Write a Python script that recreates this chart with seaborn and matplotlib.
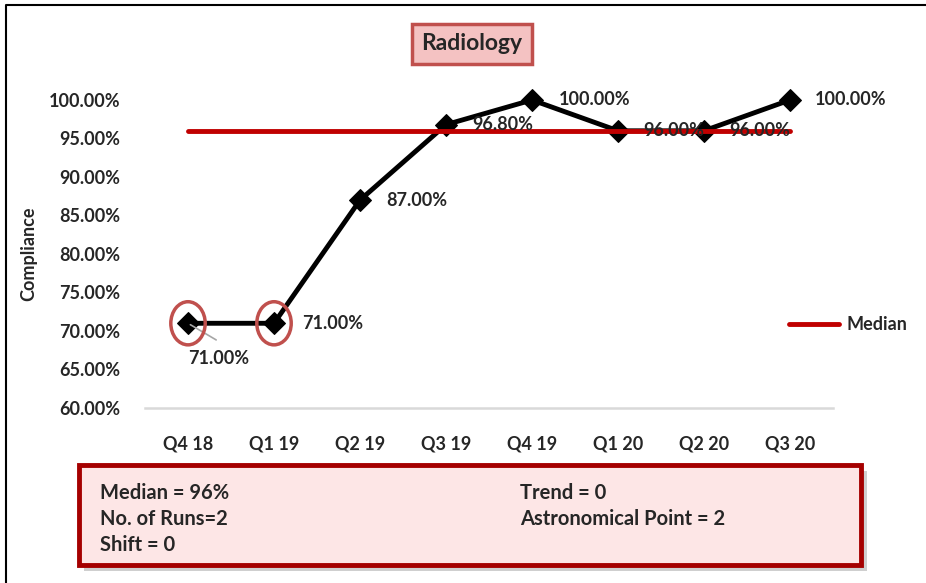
import numpy as np
import pandas as pd
import matplotlib
matplotlib.use("Agg")
import matplotlib.pyplot as plt
import seaborn as sns
from matplotlib.patches import Rectangle, Ellipse
from matplotlib.lines import Line2D

quarters = ["Q4 18", "Q1 19", "Q2 19", "Q3 19", "Q4 19", "Q1 20", "Q2 20", "Q3 20"]
compliance = [0.71, 0.71, 0.87, 0.968, 1.00, 0.96, 0.96, 1.00]
median = 0.96
circled = [0, 1]  # astronomical points
stats_left = ["Median = 96%", "No. of Runs=2", "Shift = 0"]
stats_right = ["Trend = 0", "Astronomical Point = 2"]

sns.set_style("white")
plt.rcParams["font.family"] = ["Lato", "DejaVu Sans"]
plt.rcParams["font.weight"] = "bold"
FS = 13

df = pd.DataFrame({"quarter": quarters, "compliance": compliance})

fig = plt.figure(figsize=(9.26, 5.83), dpi=100)
ax = fig.add_axes([0.1566, 0.3002, 0.743, 0.5283])

sns.lineplot(data=df, x="quarter", y="compliance", ax=ax, color="black", lw=3.5,
             marker="D", markersize=11, markeredgecolor="black", clip_on=False, zorder=3)
sns.lineplot(x=quarters, y=[median] * len(quarters), ax=ax, color="#c00000", lw=3.5,
             label="Median", zorder=4)

ax.set_xlim(-0.5, 7.5)
ax.set_ylim(0.6, 1.0)
ax.set_yticks(np.arange(0.60, 1.001, 0.05))
ax.set_yticklabels([f"{v*100:.2f}%" for v in np.arange(0.60, 1.001, 0.05)])
ax.tick_params(axis="both", length=0, labelsize=FS)
ax.tick_params(axis="y", pad=18)
ax.tick_params(axis="x", pad=20)
for lbl in ax.get_xticklabels() + ax.get_yticklabels():
    lbl.set_fontweight("bold")
ax.set_xlabel("")
ax.set_ylabel("Compliance", fontsize=FS, fontweight="bold", labelpad=8)
for s in ["top", "right", "left"]:
    ax.spines[s].set_visible(False)
ax.spines["bottom"].set_color("#d9d9d9")
ax.spines["bottom"].set_linewidth(1.8)

# data labels
offsets = [(0, -25), (20, 0), (19, 0), (19, 0), (19, 0), (18, 0), (18, 0), (18, 0)]
for i, (v, off) in enumerate(zip(compliance, offsets)):
    ax.annotate(f"{v*100:.2f}%", (i, v), xytext=off, textcoords="offset points",
                fontsize=FS, fontweight="bold", va="center", ha="left", zorder=6,
                annotation_clip=False)
ax.annotate("", (0, compliance[0]), xytext=(22, -13), textcoords="offset points",
            arrowprops=dict(arrowstyle="-", color="#a6a6a6", lw=1.2))

for i in circled:
    ax.add_patch(Ellipse((i, compliance[i]), width=0.4, height=0.056, fill=False,
                         edgecolor="#c0504d", lw=2.5, zorder=5, clip_on=False))

leg = ax.legend(loc="center left", bbox_to_anchor=(0.925, 0.27), frameon=False,
                handlelength=2.8, fontsize=FS, borderaxespad=0, handletextpad=0.4)
for t in leg.get_texts():
    t.set_fontweight("bold")

# title box
fig.text(0.5097, 0.925, "Radiology", ha="center", va="center", fontsize=16.5,
         fontweight="bold",
         bbox=dict(boxstyle="square,pad=0.42", facecolor="#f4c2c2",
                   edgecolor="#c0504d", lw=2.5))

# stats box with shadow
fig.patches.append(Rectangle((0.091, 0.020), 0.845, 0.172, transform=fig.transFigure,
                             facecolor="#b0b0b0", edgecolor="none", alpha=0.6, zorder=1))
fig.patches.append(Rectangle((0.085, 0.031), 0.845, 0.172, transform=fig.transFigure,
                             facecolor="#fde6e6", edgecolor="#a50000", lw=3.5, zorder=2))
for k, t in enumerate(stats_left):
    fig.text(0.108, 0.154 - k * 0.044, t, fontsize=14.5, fontweight="bold",
             va="center", zorder=3)
for k, t in enumerate(stats_right):
    fig.text(0.562, 0.154 - k * 0.044, t, fontsize=14.5, fontweight="bold",
             va="center", zorder=3)

# outer frame (left and top)
fig.lines.append(Line2D([0.006, 0.006, 1.0], [0.0, 0.991, 0.991], transform=fig.transFigure,
                        color="black", lw=1.5))

fig.savefig("out.png", dpi=100)
